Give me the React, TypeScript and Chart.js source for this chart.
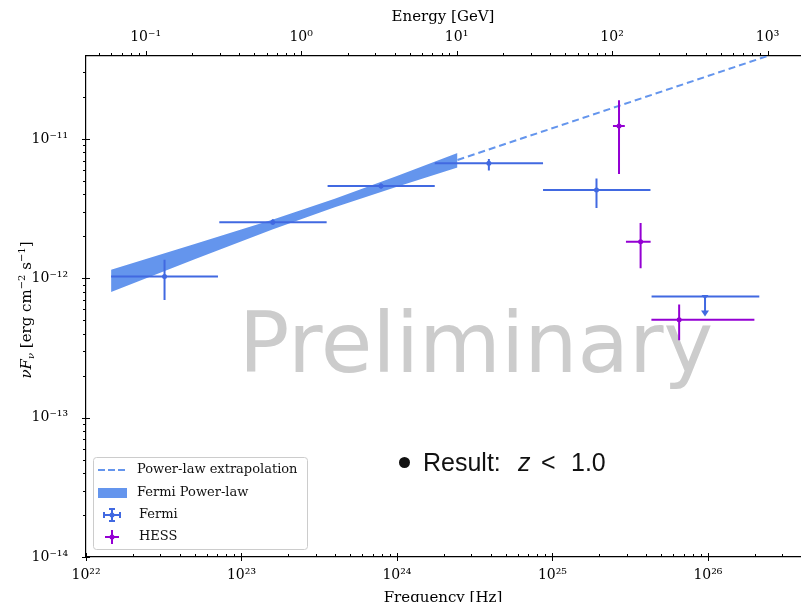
import React, { useEffect, useRef } from "react";
import { Chart, registerables } from "chart.js";
Chart.register(...registerables);

// ---------- axis ranges & tick labels ----------
const HZ_PER_GEV = 2.418e23;
const X_MIN = 1e22;
const X_MAX = 3.91e26;
const Y_MIN = 1e-14;
const Y_MAX = 3.94e-11;
const X_MAJOR_EXP = [22, 23, 24, 25, 26];
const E_MAJOR_EXP = [-1, 0, 1, 2, 3];
const Y_MAJOR_EXP = [-14, -13, -12, -11];

// ---------- Fermi data points ----------
const fermiNu = [3.2e22, 1.59e23, 7.9e23, 3.9e24, 1.92e25];
const fermiNuLo = [1.45e22, 7.2e22, 3.58e23, 1.75e24, 8.7e24];
const fermiNuHi = [7.06e22, 3.53e23, 1.75e24, 8.7e24, 4.27e25];
const fermiFlux = [1.03e-12, 2.53e-12, 4.6e-12, 6.7e-12, 4.3e-12];
const fermiFluxLo = [7.0e-13, 2.42e-12, 4.42e-12, 5.93e-12, 3.19e-12];
const fermiFluxHi = [1.36e-12, 2.65e-12, 4.8e-12, 7.19e-12, 5.2e-12];

// ---------- Fermi upper limit ----------
const ulNu = [9.58e25];
const ulNuLo = [4.34e25];
const ulNuHi = [2.14e26];
const ulFlux = [7.4e-13];
const ulArrowTo = [5.32e-13];

// ---------- HESS data points ----------
const hessNu = [2.68e25, 3.69e25, 6.53e25];
const hessNuLo = [2.45e25, 2.97e25, 4.33e25];
const hessNuHi = [2.92e25, 4.28e25, 1.99e26];
const hessFlux = [1.24e-11, 1.83e-12, 5.05e-13];
const hessFluxLo = [5.6e-12, 1.18e-12, 3.6e-13];
const hessFluxHi = [1.9e-11, 2.49e-12, 6.5e-13];

// ---------- Fermi power-law butterfly ----------
const bandNu = [1.45e22, 5.0e22, 1.58e23, 3.98e23, 1.0e24, 2.45e24];
const bandUpper = [1.153e-12, 1.76e-12, 2.63e-12, 3.72e-12, 5.43e-12, 7.92e-12];
const bandLower = [7.98e-13, 1.37e-12, 2.24e-12, 3.24e-12, 4.54e-12, 6.25e-12];

// ---------- power-law extrapolation ----------
const extrapNu = [2.45e24, 2.418e26];
const extrapFlux = [7.06e-12, 3.94e-11];

const FERMI = "#4169E1";
const HESS = "#9400D3";
const BAND = "#6495ED";
const SERIF = "'DejaVu Serif', serif";
const SANS = "'DejaVu Sans', sans-serif";
const RESULT_FONT = "'Liberation Sans', sans-serif";

const SUP: Record<string, string> = {
  "-": "\u207B", "0": "\u2070", "1": "\u00B9", "2": "\u00B2", "3": "\u00B3",
  "4": "\u2074", "5": "\u2075", "6": "\u2076", "7": "\u2077", "8": "\u2078", "9": "\u2079",
};
const pow10Label = (e: number) => "10" + String(e).split("").map((c) => SUP[c]).join("");

function logTicks(min: number, max: number) {
  const out: { value: number }[] = [];
  for (let e = Math.floor(Math.log10(min)) - 1; e <= Math.ceil(Math.log10(max)); e++) {
    for (let m = 1; m <= 9; m++) {
      const v = m * Math.pow(10, e);
      if (v >= min * 0.9999 && v <= max * 1.0001) out.push({ value: v });
    }
  }
  return out;
}
const expOf = (v: number) => {
  const l = Math.log10(v);
  const r = Math.round(l);
  return Math.abs(l - r) < 1e-6 ? r : null;
};

const pairs = (xs: number[], ys: number[]) => xs.map((x, i) => ({ x, y: ys[i] }));

const tickFont = { family: SERIF, size: 14 };

const decoPlugin = {
  id: "deco",
  beforeDatasetsDraw(chart: any) {
    const { ctx, chartArea } = chart;
    ctx.save();
    ctx.beginPath();
    ctx.rect(chartArea.left, chartArea.top, chartArea.right - chartArea.left, chartArea.bottom - chartArea.top);
    ctx.clip();
    ctx.fillStyle = "#cccccc";
    ctx.font = `84px ${SANS}`;
    ctx.textAlign = "center";
    ctx.textBaseline = "alphabetic";
    ctx.fillText("Preliminary", 476, 372);
    ctx.restore();
  },
  afterDatasetsDraw(chart: any) {
    const { ctx, chartArea } = chart;
    const xs = chart.scales.x;
    const ys = chart.scales.y;
    const px = (v: number) => xs.getPixelForValue(v);
    const py = (v: number) => ys.getPixelForValue(v);
    ctx.save();
    ctx.beginPath();
    ctx.rect(chartArea.left, chartArea.top, chartArea.right - chartArea.left, chartArea.bottom - chartArea.top);
    ctx.clip();
    ctx.lineWidth = 2;
    ctx.lineCap = "butt";
    const bars = (nu: number[], lo: number[], hi: number[], f: number[], flo: number[], fhi: number[], col: string) => {
      ctx.strokeStyle = col;
      ctx.fillStyle = col;
      nu.forEach((n, i) => {
        ctx.beginPath();
        ctx.moveTo(px(lo[i]), py(f[i]));
        ctx.lineTo(px(hi[i]), py(f[i]));
        ctx.moveTo(px(n), py(flo[i]));
        ctx.lineTo(px(n), py(fhi[i]));
        ctx.stroke();
        ctx.beginPath();
        ctx.arc(px(n), py(f[i]), 2.5, 0, Math.PI * 2);
        ctx.fill();
      });
    };
    bars(fermiNu, fermiNuLo, fermiNuHi, fermiFlux, fermiFluxLo, fermiFluxHi, FERMI);
    bars(hessNu, hessNuLo, hessNuHi, hessFlux, hessFluxLo, hessFluxHi, HESS);
    // upper limit
    ctx.strokeStyle = FERMI;
    ctx.fillStyle = FERMI;
    ulNu.forEach((n, i) => {
      const x = px(n), y = py(ulFlux[i]), y2 = py(ulArrowTo[i]);
      ctx.beginPath();
      ctx.moveTo(px(ulNuLo[i]), y);
      ctx.lineTo(px(ulNuHi[i]), y);
      ctx.moveTo(x, y);
      ctx.lineTo(x, y2 - 4);
      ctx.stroke();
      ctx.beginPath();
      ctx.moveTo(x - 4, y2 - 6);
      ctx.lineTo(x + 4, y2 - 6);
      ctx.lineTo(x, y2);
      ctx.closePath();
      ctx.fill();
      ctx.beginPath();
      ctx.moveTo(x - 3.5, y - 1.5);
      ctx.lineTo(x + 3.5, y - 1.5);
      ctx.lineTo(x, y + 3);
      ctx.closePath();
      ctx.fill();
    });
    ctx.restore();
  },
  afterDraw(chart: any) {
    const { ctx, chartArea } = chart;
    ctx.save();
    // tick marks
    ctx.strokeStyle = "#000";
    ctx.lineWidth = 1;
    const xb = chart.scales.x, xt = chart.scales.xTop, yl = chart.scales.y;
    xb.ticks.forEach((t: any) => {
      const p = Math.round(xb.getPixelForValue(t.value)) + 0.5;
      const maj = expOf(t.value) !== null;
      ctx.beginPath();
      ctx.moveTo(p, chartArea.bottom + (maj ? 4 : 0));
      ctx.lineTo(p, chartArea.bottom - (maj ? 4 : 3));
      ctx.stroke();
    });
    xt.ticks.forEach((t: any) => {
      const p = Math.round(xt.getPixelForValue(t.value)) + 0.5;
      const maj = expOf(t.value) !== null;
      ctx.beginPath();
      ctx.moveTo(p, chartArea.top);
      ctx.lineTo(p, chartArea.top - (maj ? 5 : 3));
      ctx.stroke();
    });
    yl.ticks.forEach((t: any) => {
      const p = Math.round(yl.getPixelForValue(t.value)) + 0.5;
      const maj = expOf(t.value) !== null;
      ctx.beginPath();
      ctx.moveTo(chartArea.left - (maj ? 4 : 3), p);
      ctx.lineTo(chartArea.left + (maj ? 4 : 0), p);
      ctx.stroke();
    });

    // y-axis title
    ctx.translate(25, 310);
    ctx.rotate(-Math.PI / 2);
    const segs = [
      { t: "\u03BD", f: `italic 15px ${SERIF}`, dy: 0 },
      { t: "F", f: `italic 15px ${SERIF}`, dy: 0 },
      { t: "\u03BD", f: `italic 10px ${SERIF}`, dy: 3 },
      { t: " [erg cm", f: `15px ${SERIF}`, dy: 0 },
      { t: "\u22122", f: `10px ${SERIF}`, dy: -6 },
      { t: " s", f: `15px ${SERIF}`, dy: 0 },
      { t: "\u22121", f: `10px ${SERIF}`, dy: -6 },
      { t: "]", f: `15px ${SERIF}`, dy: 0 },
    ];
    let total = 0;
    segs.forEach((s) => { ctx.font = s.f; total += ctx.measureText(s.t).width; });
    let cx = -total / 2;
    ctx.fillStyle = "#000";
    ctx.textBaseline = "alphabetic";
    ctx.textAlign = "left";
    segs.forEach((s) => {
      ctx.font = s.f;
      ctx.fillText(s.t, cx, 6 + s.dy);
      cx += ctx.measureText(s.t).width;
    });
    ctx.setTransform(1, 0, 0, 1, 0, 0);

    // legend
    const lx = 93.5, ly = 457.5, lw = 214, lh = 92;
    ctx.beginPath();
    ctx.roundRect(lx, ly, lw, lh, 3);
    ctx.fillStyle = "rgba(255,255,255,0.85)";
    ctx.fill();
    ctx.strokeStyle = "#cccccc";
    ctx.lineWidth = 1;
    ctx.stroke();
    ctx.strokeStyle = BAND;
    ctx.lineWidth = 2;
    ctx.setLineDash([7, 3]);
    ctx.beginPath();
    ctx.moveTo(98, 470);
    ctx.lineTo(126, 470);
    ctx.stroke();
    ctx.setLineDash([]);
    ctx.fillStyle = BAND;
    ctx.fillRect(98, 488, 29, 10);
    // fermi icon
    ctx.strokeStyle = FERMI;
    ctx.fillStyle = FERMI;
    ctx.beginPath();
    ctx.moveTo(104, 515); ctx.lineTo(120, 515);
    ctx.moveTo(112, 509); ctx.lineTo(112, 521);
    ctx.moveTo(104, 512); ctx.lineTo(104, 518);
    ctx.moveTo(120, 512); ctx.lineTo(120, 518);
    ctx.moveTo(109, 509); ctx.lineTo(115, 509);
    ctx.moveTo(109, 521); ctx.lineTo(115, 521);
    ctx.stroke();
    ctx.beginPath(); ctx.arc(112, 515, 2.5, 0, Math.PI * 2); ctx.fill();
    // hess icon
    ctx.strokeStyle = HESS;
    ctx.fillStyle = HESS;
    ctx.beginPath();
    ctx.moveTo(105, 537); ctx.lineTo(119, 537);
    ctx.moveTo(112, 530); ctx.lineTo(112, 544);
    ctx.stroke();
    ctx.beginPath(); ctx.arc(112, 537, 2.5, 0, Math.PI * 2); ctx.fill();
    ctx.fillStyle = "#111";
    ctx.font = `13px ${SERIF}`;
    ctx.textBaseline = "middle";
    ctx.fillText("Power-law extrapolation", 137, 470);
    ctx.fillText("Fermi Power-law", 137, 493);
    ctx.fillText("Fermi", 139, 515);
    ctx.fillText("HESS", 139, 537);

    // result text
    ctx.fillStyle = "#111";
    ctx.textBaseline = "alphabetic";
    ctx.beginPath();
    ctx.arc(404.5, 462.5, 5.5, 0, Math.PI * 2);
    ctx.fill();
    ctx.font = `25px ${RESULT_FONT}`;
    ctx.fillText("Result:", 423, 471);
    ctx.font = `italic 25px ${RESULT_FONT}`;
    ctx.fillText("z", 518, 471);
    ctx.font = `25px ${RESULT_FONT}`;
    ctx.fillText("<", 541, 471);
    ctx.fillText("1.0", 571, 471);
    ctx.restore();
  },
};

export default function App() {
  const ref = useRef<HTMLCanvasElement | null>(null);
  useEffect(() => {
    document.body.style.overflow = "hidden";
    document.documentElement.style.overflow = "hidden";
    const canvas = ref.current!;
    const chart = new Chart(canvas, {
      type: "scatter",
      data: {
        datasets: [
          {
            label: "band-lower",
            data: pairs(bandNu, bandLower),
            showLine: true,
            borderWidth: 0,
            pointRadius: 0,
            borderColor: BAND,
            fill: false,
          },
          {
            label: "Fermi Power-law",
            data: pairs(bandNu, bandUpper),
            showLine: true,
            borderWidth: 0,
            pointRadius: 0,
            borderColor: BAND,
            backgroundColor: BAND,
            fill: "-1",
          },
          {
            label: "Power-law extrapolation",
            data: pairs(extrapNu, extrapFlux),
            showLine: true,
            borderWidth: 2,
            borderDash: [7, 4],
            borderColor: BAND,
            pointRadius: 0,
            fill: false,
          },
          {
            label: "Fermi",
            data: pairs(fermiNu, fermiFlux),
            pointRadius: 0,
            backgroundColor: FERMI,
            borderColor: FERMI,
          },
          {
            label: "HESS",
            data: pairs(hessNu, hessFlux),
            pointRadius: 0,
            backgroundColor: HESS,
            borderColor: HESS,
          },
        ],
      },
      options: {
        animation: false,
        responsive: false,
        devicePixelRatio: 1,
        layout: { padding: { left: 0, right: 1, top: 0, bottom: 0 } },
        plugins: { legend: { display: false }, tooltip: { enabled: false } },
        scales: {
          x: {
            type: "logarithmic",
            position: "bottom",
            min: X_MIN,
            max: X_MAX,
            afterBuildTicks: (s: any) => { s.ticks = logTicks(X_MIN, X_MAX); },
            afterFit: (s: any) => { s.height = 63; },
            grid: { display: false, drawTicks: false },
            border: { display: true, color: "#000", width: 1.2 },
            ticks: {
              autoSkip: false, maxRotation: 0, minRotation: 0, padding: 10, color: "#000", font: tickFont,
              callback: (v: any) => { const e = expOf(Number(v)); return e !== null && X_MAJOR_EXP.includes(e) ? pow10Label(e) : ""; },
            },
            title: { display: true, text: "Frequency [Hz]", color: "#000", font: { family: SERIF, size: 15 }, padding: { top: 0, bottom: 13 } },
          },
          xTop: {
            type: "logarithmic",
            axis: "x",
            position: "top",
            min: X_MIN / HZ_PER_GEV,
            max: X_MAX / HZ_PER_GEV,
            afterBuildTicks: (s: any) => { s.ticks = logTicks(X_MIN / HZ_PER_GEV, X_MAX / HZ_PER_GEV); },
            afterFit: (s: any) => { s.height = 56; },
            grid: { display: false, drawTicks: false },
            border: { display: true, color: "#000", width: 1.2 },
            ticks: {
              autoSkip: false, maxRotation: 0, minRotation: 0, padding: 10, color: "#000", font: tickFont,
              callback: (v: any) => { const e = expOf(Number(v)); return e !== null && E_MAJOR_EXP.includes(e) ? pow10Label(e) : ""; },
            },
            title: { display: true, text: "Energy [GeV]", color: "#000", font: { family: SERIF, size: 15 }, padding: { top: 8, bottom: 0 } },
          },
          y: {
            type: "logarithmic",
            position: "left",
            min: Y_MIN,
            max: Y_MAX,
            afterBuildTicks: (s: any) => { s.ticks = logTicks(Y_MIN, Y_MAX); },
            afterFit: (s: any) => { s.width = 86; },
            grid: { display: false, drawTicks: false },
            border: { display: true, color: "#000", width: 1.2 },
            ticks: {
              autoSkip: false, padding: 18, color: "#000", font: tickFont,
              callback: (v: any) => { const e = expOf(Number(v)); return e !== null && Y_MAJOR_EXP.includes(e) ? pow10Label(e) : ""; },
            },
          },
        },
      },
      plugins: [decoPlugin],
    } as any);
    return () => chart.destroy();
  }, []);
  return (
    <div style={{ position: "fixed", left: 0, top: 0, width: 801, height: 620, background: "#fff" }}>
      <canvas ref={ref} width={801} height={620} style={{ width: 801, height: 620, display: "block" }} />
    </div>
  );
}
